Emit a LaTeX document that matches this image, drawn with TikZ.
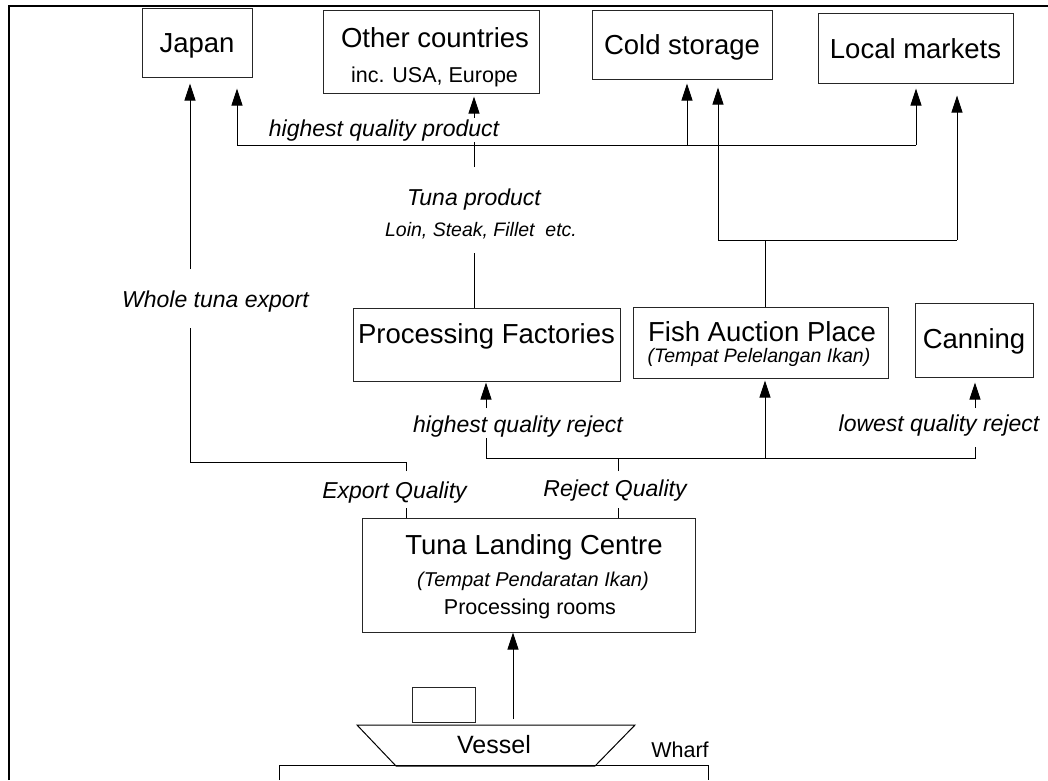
\documentclass[tikz,border=0pt]{standalone}
\usepackage{fontspec}
\setmainfont{Liberation Sans}
\usetikzlibrary{arrows.meta}

\begin{document}
\begin{tikzpicture}[x=1pt,y=-1pt,
		box/.style={draw=black!85, line width=1pt, inner sep=0pt, font=\fontsize{27.5}{32}\selectfont, text height=20pt, text depth=0pt},
		big/.style={font=\fontsize{27.5}{32}\selectfont},
		mid/.style={font=\fontsize{21.5}{26}\selectfont},
		note/.style={font=\fontsize{23}{26}\selectfont\itshape},
		small/.style={font=\fontsize{19.5}{22}\selectfont\itshape},
		link/.style={line width=1pt},
		flow/.style={link, -{Triangle[length=17pt,width=11pt]}}]
	\useasboundingbox (0,0) rectangle (1048,780);
	\draw[line width=2.4pt] (9,780) -- (9,6) -- (1048,6);
	% destinations
	\node[box, minimum width=110pt, minimum height=69pt] (japan) at (197,42.5) {Japan};
	\node[box, minimum width=216pt, minimum height=83pt] (other) at (431,51.5) {};
	\node[big, anchor=base] (othert) at (435,47) {Other countries};
	\node[mid, anchor=base] (otherst) at (434.5,82) {inc. USA, Europe};
	\node[box, minimum width=180pt, minimum height=69pt] (cold) at (682,44.5) {Cold storage};
	\node[box, minimum width=195pt, minimum height=70pt] (local) at (915.5,48) {Local markets};
	% middle row
	\node[box, minimum width=267pt, minimum height=73pt, text depth=23pt] (proc) at (486.5,344.5) {Processing Factories};
	\node[box, minimum width=255pt, minimum height=71pt] (fap) at (760.5,342.5) {};
	\node[big, anchor=base] (fapt) at (762,341) {Fish Auction Place};
	\node[small, anchor=base] (fapst) at (759,362) {(Tempat Pelelangan Ikan)};
	\node[box, minimum width=118pt, minimum height=74pt, text depth=4pt] (can) at (974,340) {Canning};
	% landing centre
	\node[box, minimum width=333pt, minimum height=114pt] (tlc) at (528.5,575) {};
	\node[big, anchor=base] (tlct) at (534,554) {Tuna Landing Centre};
	\node[font=\fontsize{20}{24}\selectfont\itshape, anchor=base] (tlcst) at (533,586) {(Tempat Pendaratan Ikan)};
	\node[mid, anchor=base] (tlcrt) at (530,614) {Processing rooms};
	% labels
	\node[note, anchor=base] (tp) at (474,205) {Tuna product};
	\node[small, anchor=base] (tps) at (481,236) {Loin, Steak, Fillet\ \ etc.};
	\node[note, anchor=base] (wte) at (215.5,307) {Whole tuna export};
	\node[note, anchor=base] (hqr) at (518,432) {highest quality reject};
	\node[note, anchor=base] (lqr) at (939,431) {lowest quality reject};
	\node[note, anchor=base] (eq) at (394.5,498) {Export Quality};
	\node[note, anchor=base] (rq) at (615,496) {Reject Quality};
	% export quality branch
	\coordinate (eqtop) at (406,471);
	\coordinate (eqbot) at (406,508);
	\coordinate (eqjoin) at (406,462);
	\coordinate (wtelow) at (190,328);
	\coordinate (wtehigh) at (190,269);
	\draw[link] (eqtop) -- (eqjoin) -| (wtelow);
	\draw[flow, shorten >=6pt] (wtehigh) -- (wtehigh |- japan.south);
	\draw[link] (eqbot) -- (eqbot |- tlc.north);
	% reject quality branch
	\coordinate (rqtop) at (618,471);
	\coordinate (rqbot) at (618,508);
	\coordinate (rqjoin) at (618,458);
	\coordinate (rjl) at (486,458);
	\coordinate (rjr) at (975,458);
	\coordinate (rjm) at (765,458);
	\coordinate (hqrlow) at (486,438);
	\coordinate (hqrhigh) at (486,408);
	\coordinate (lqrlow) at (975,447);
	\coordinate (lqrhigh) at (975,408);
	\draw[link] (rqtop) -- (rqjoin);
	\draw[link] (rqbot) -- (rqbot |- tlc.north);
	\draw[link] (hqrlow) -- (rjl) -- (rjr) -- (lqrlow);
	\draw[flow, shorten >=1pt] (hqrhigh) -- (hqrhigh |- proc.south);
	\draw[flow, shorten >=2pt] (rjm) -- (rjm |- fap.south);
	\draw[flow, shorten >=5pt] (lqrhigh) -- (lqrhigh |- can.south);
	% tuna product
	\coordinate (tpbot) at (474,253);
	\coordinate (tptop) at (474,167);
	\coordinate (pj) at (474,145);
	\coordinate (pl) at (237,145);
	\coordinate (pc) at (687,145);
	\coordinate (pr) at (916,145);
	\draw[link] (tpbot) -- (tpbot |- proc.north);
	\draw[link] (tptop) -- (pj);
	\draw[link] (pl) -- (pr);
	\draw[flow, shorten >=11pt] (pl) -- (pl |- japan.south);
	\draw[flow, shorten >=3pt] (pj) -- (pj |- other.south);
	\draw[flow, shorten >=4pt] (pc) -- (pc |- cold.south);
	\draw[flow, shorten >=5pt] (pr) -- (pr |- local.south);
	\node[note, anchor=base, fill=white, inner sep=1pt] (hqp) at (384,136) {highest quality product};
	% auction outlets
	\coordinate (fl) at (718,240);
	\coordinate (fm) at (765,240);
	\coordinate (fr) at (957,240);
	\draw[link] (fm) -- (fm |- fap.north);
	\draw[link] (fl) -- (fr);
	\draw[flow, shorten >=8pt] (fl) -- (fl |- cold.south);
	\draw[flow, shorten >=12pt] (fr) -- (fr |- local.south);
	% vessel and wharf
	\node[draw=black!85, line width=1pt, minimum width=63pt, minimum height=35pt] (cabin) at (443.5,704.5) {};
	\draw[link] (357,725) -- (635,725) -- (595,766) -- (396,766) -- cycle;
	\node[font=\fontsize{25}{30}\selectfont, anchor=base] (vessel) at (494,753) {Vessel};
	\draw[link] (279,780) -- (279,765) -- (708,765) -- (708,780);
	\node[mid, anchor=base] (wharf) at (680,757) {Wharf};
	\coordinate (vtop) at (513,719);
	\draw[flow] (vtop) -- (vtop |- tlc.south);
\end{tikzpicture}
\end{document}
